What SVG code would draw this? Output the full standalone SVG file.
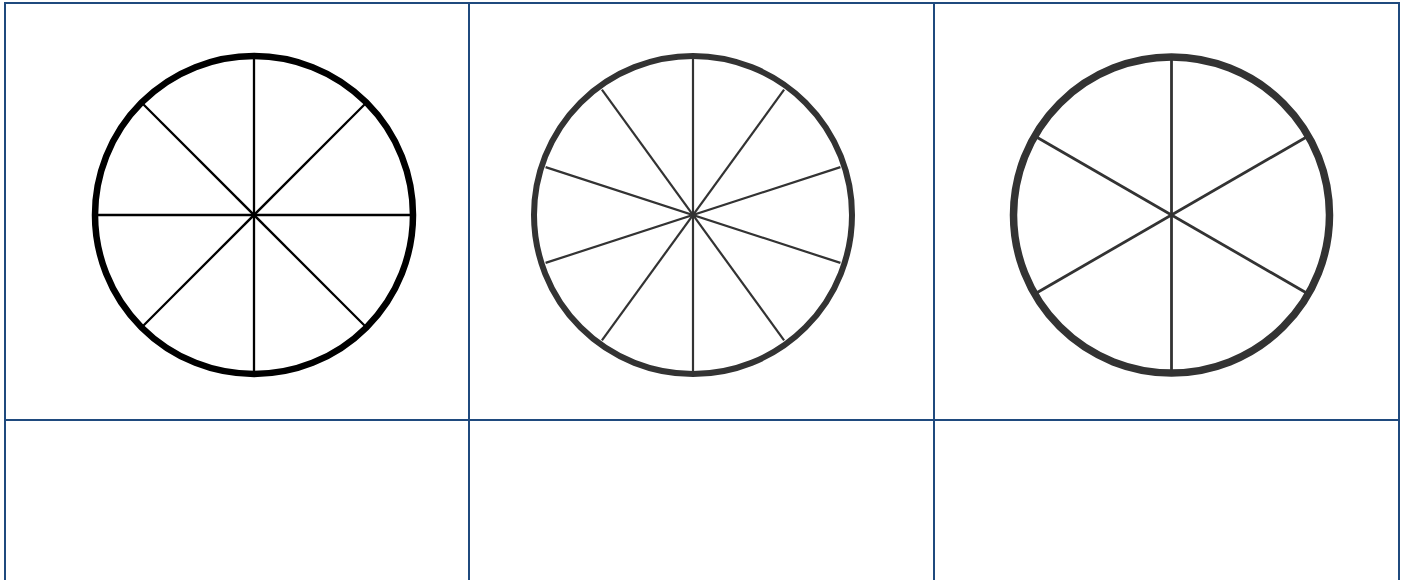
<svg xmlns="http://www.w3.org/2000/svg" width="1407" height="580" viewBox="0 0 1407 580">
<style>
.grid{stroke:#1F4A7E;stroke-width:2;fill:none}
.rim{fill:none}
.w1 .rim{stroke:#000;stroke-width:6.5}
.w1 .sp{stroke:#000;stroke-width:2.3}
.w2 .rim{stroke:#333;stroke-width:6}
.w2 .sp{stroke:#333;stroke-width:2.2}
.w3 .rim{stroke:#333;stroke-width:7.5}
.w3 .sp{stroke:#333;stroke-width:2.8}
</style>
<rect width="1407" height="580" fill="#fff"/>
<g id="table" class="grid">
<line x1="4" y1="3" x2="1400" y2="3"/>
<line x1="5" y1="2" x2="5" y2="580"/>
<line x1="469" y1="2" x2="469" y2="580"/>
<line x1="934" y1="2" x2="934" y2="580"/>
<line x1="1399" y1="2" x2="1399" y2="580"/>
<line x1="4" y1="420" x2="1400" y2="420"/>
</g>
<g id="wheel8" class="w1">
<circle class="rim" cx="254" cy="215" r="159"/>
<line class="sp" x1="254" y1="58" x2="254" y2="372"/>
<line class="sp" x1="97" y1="215" x2="411" y2="215"/>
<line class="sp" x1="143" y1="104" x2="365" y2="326"/>
<line class="sp" x1="365" y1="104" x2="143" y2="326"/>
</g>
<g id="wheel10" class="w2">
<circle class="rim" cx="693" cy="215" r="159"/>
<line class="sp" x1="693" y1="59" x2="693" y2="371"/>
<line class="sp" x1="784.1" y1="89.6" x2="601.9" y2="340.4"/>
<line class="sp" x1="601.9" y1="89.6" x2="784.1" y2="340.4"/>
<line class="sp" x1="840.4" y1="167.1" x2="545.6" y2="262.9"/>
<line class="sp" x1="545.6" y1="167.1" x2="840.4" y2="262.9"/>
</g>
<g id="wheel6" class="w3">
<circle class="rim" cx="1171.5" cy="215" r="158"/>
<line class="sp" x1="1171.5" y1="59" x2="1171.5" y2="371"/>
<line class="sp" x1="1305.7" y1="137.5" x2="1037.3" y2="292.5"/>
<line class="sp" x1="1037.3" y1="137.5" x2="1305.7" y2="292.5"/>
</g>
</svg>
